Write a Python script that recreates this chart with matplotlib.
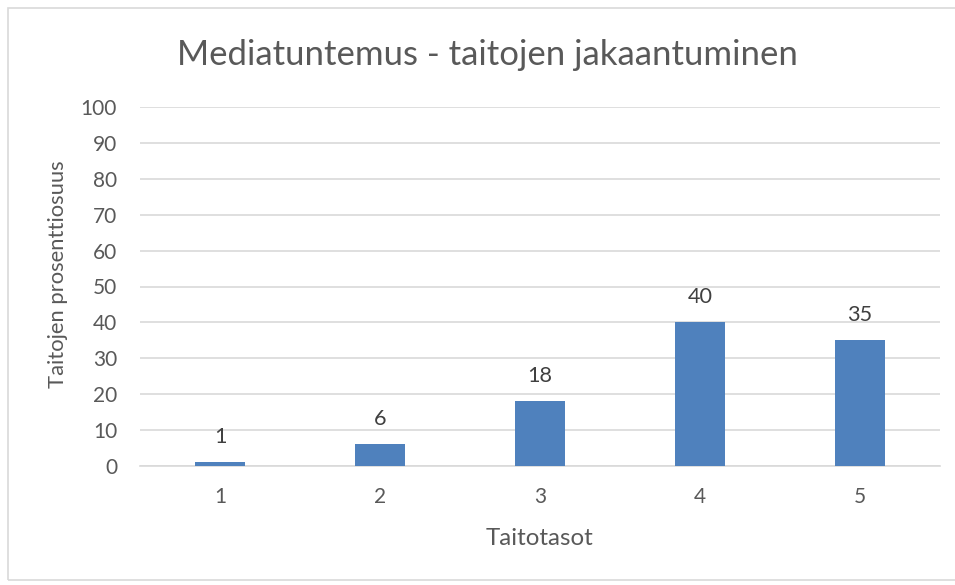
import matplotlib
matplotlib.use("Agg")
import matplotlib.pyplot as plt
from matplotlib.patches import Rectangle

categories = ["1", "2", "3", "4", "5"]
values = [1, 6, 18, 40, 35]
yticks = [0, 10, 20, 30, 40, 50, 60, 70, 80, 90, 100]
title = "Mediatuntemus - taitojen jakaantuminen"
xlabel = "Taitotasot"
ylabel = "Taitojen prosenttiosuus"

plt.rcParams['font.family'] = ['Lato', 'DejaVu Sans']
txt = "#595959"
W, H = 955, 585
fig = plt.figure(figsize=(W/100, H/100), dpi=100)
fig.patches.append(Rectangle((8/W, 5/H), 1.2, (580-8)/H, transform=fig.transFigure,
                             fill=False, edgecolor="#D9D9D9", linewidth=1.2))
ax = fig.add_axes([140/W, (H-466)/H, 800/W, (466-107)/H])
x = list(range(1, len(categories)+1))
ax.bar(x, values, width=0.3125, color="#4F81BD", zorder=3)
renderer = fig.canvas.get_renderer()


def fit(t, target, horizontal=True):
    bb = t.get_window_extent(renderer)
    size = bb.width if horizontal else bb.height
    t.set_fontsize(t.get_fontsize() * target / size)


def probe_size(s, target):
    p = fig.text(0.5, 0.5, s, fontsize=13)
    fit(p, target)
    fs = p.get_fontsize()
    p.remove()
    return fs


label_fs = probe_size("40", 25)
tick_fs = probe_size("100", 36)

for xi, v in zip(x, values):
    ax.annotate(str(v), (xi, v), xytext=(0, 11), textcoords="offset points",
                ha="center", va="bottom", fontsize=label_fs, color="#404040")

ax.set_xlim(0.5, 5.5)
ax.set_ylim(0, 100)
ax.set_yticks(yticks)
ax.set_xticks(x)
ax.set_xticklabels(categories)
ax.grid(axis="y", color="#D9D9D9", linewidth=1.2, zorder=0)
for s in ["top", "right", "left"]:
    ax.spines[s].set_visible(False)
ax.spines["bottom"].set_color("#D9D9D9")
ax.spines["bottom"].set_linewidth(1.2)

ax.tick_params(axis="both", length=0, labelsize=tick_fs, labelcolor=txt)
ax.tick_params(axis="x", pad=15)
ax.tick_params(axis="y", pad=16.5)

t_title = fig.text(487.5/W, 1-65/H, title, ha="center", va="baseline", fontsize=21, color=txt)
fit(t_title, 619)
t_x = fig.text(539/W, 1-545/H, xlabel, ha="center", va="baseline", fontsize=14, color=txt)
fit(t_x, 108)
t_y = fig.text(58/W, 1-274/H, ylabel, ha="center", va="center", rotation=90, fontsize=14, color=txt)
fit(t_y, 228, horizontal=False)
fig.savefig("out.png", dpi=100)
